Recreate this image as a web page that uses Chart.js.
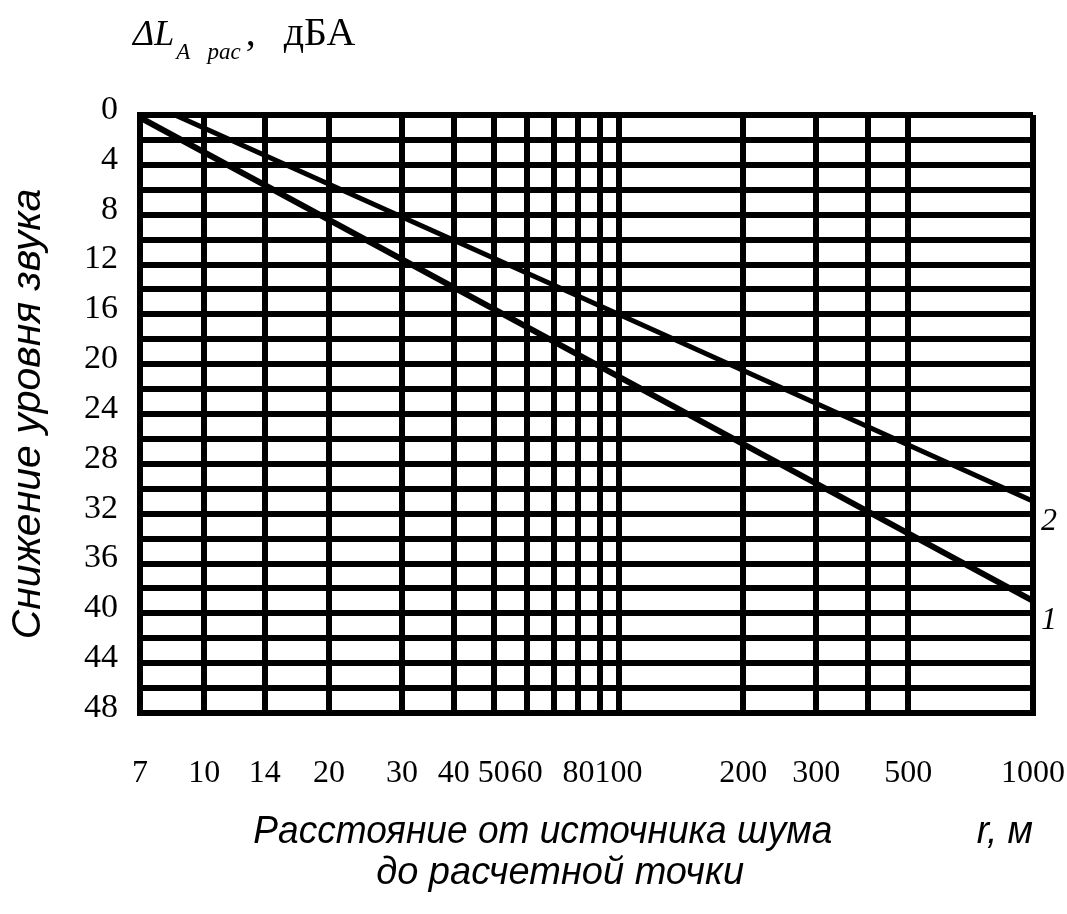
<!DOCTYPE html>
<html lang="ru">
<head>
  <meta charset="UTF-8">
  <title>Снижение уровня звука</title>
  <script src="https://cdn.jsdelivr.net/npm/chart.js"></script>
  <style>
    html, body {
      margin: 0;
      padding: 0;
      background: #ffffff;
    }
    canvas {
      display: block;
    }
  </style>
</head>
<body>

  <canvas id="chart" width="1067" height="914"></canvas>

  <script>
    // distances r, m: every vertical grid line, and the ones that carry a label
    const gridDistances = [7, 10, 14, 20, 30, 40, 50, 60, 70, 80, 90, 100, 200, 300, 400, 500, 1000];
    const labeledDistances = [7, 10, 14, 20, 30, 40, 50, 60, 80, 100, 200, 300, 500, 1000];

    // level reduction, dBA: horizontal grid every 2, labels every 4
    const levelLabels = [0, 4, 8, 12, 16, 20, 24, 28, 32, 36, 40, 44, 48];

    // curve 1 (lower, steeper)
    const curve1Distance = [7, 100, 1000];
    const curve1Reduction = [0.2, 21, 39];

    // curve 2 (upper)
    const curve2Distance = [8.5, 100, 1000];
    const curve2Reduction = [0, 16, 31];

    const curveNames = ['1', '2'];

    const black = '#000000';
    const serif = '"Liberation Serif", "DejaVu Serif", serif';
    const sans = '"Liberation Sans", "DejaVu Sans", sans-serif';

    function toPoints(xs, ys) {
      return xs.map((x, i) => ({ x: x, y: ys[i] }));
    }

    // heading above the y axis and the curve numbers at the line ends
    const textPlugin = {
      id: 'texts',
      afterDatasetsDraw(chart) {
        const ctx = chart.ctx;
        ctx.save();
        ctx.fillStyle = black;
        ctx.font = 'italic 32px ' + serif;
        ctx.textAlign = 'left';
        ctx.textBaseline = 'middle';
        chart.data.datasets.forEach((ds, i) => {
          const pts = chart.getDatasetMeta(i).data;
          const last = pts[pts.length - 1];
          ctx.fillText(ds.label, last.x + 8, last.y + 20);
        });
        ctx.restore();
      },
      afterDraw(chart) {
        const ctx = chart.ctx;
        const area = chart.chartArea;
        const base = area.top - 70;
        let x = area.left - 7;
        ctx.save();
        ctx.fillStyle = black;
        ctx.textAlign = 'left';
        ctx.textBaseline = 'alphabetic';
        ctx.font = 'italic 36px ' + serif;
        ctx.fillText('ΔL', x, base);
        x += ctx.measureText('ΔL').width + 2;
        ctx.font = 'italic 23px ' + serif;
        ctx.fillText('A   рас', x, base + 14);
        x += ctx.measureText('A   рас').width + 5;
        ctx.font = '40px ' + serif;
        ctx.fillText(',', x, base);
        x += ctx.measureText(',').width + 28;
        ctx.fillText('дБА', x, base);
        ctx.restore();
      }
    };

    new Chart(document.getElementById('chart'), {
      type: 'line',
      data: {
        datasets: [
          {
            label: curveNames[0],
            data: toPoints(curve1Distance, curve1Reduction),
            borderColor: black,
            borderWidth: 6,
            pointRadius: 0,
            tension: 0
          },
          {
            label: curveNames[1],
            data: toPoints(curve2Distance, curve2Reduction),
            borderColor: black,
            borderWidth: 5,
            pointRadius: 0,
            tension: 0
          }
        ]
      },
      options: {
        responsive: false,
        animation: false,
        layout: { padding: { top: 115, right: 0, bottom: 0, left: 0 } },
        plugins: {
          legend: { display: false },
          tooltip: { enabled: false }
        },
        scales: {
          x: {
            type: 'logarithmic',
            min: 7,
            max: 1000,
            afterBuildTicks: s => { s.ticks = gridDistances.map(v => ({ value: v })); },
            afterFit: s => {
              s.height = 201;
              s.paddingLeft = 0;
              s.paddingRight = 34;
            },
            ticks: {
              autoSkip: false,
              maxRotation: 0,
              minRotation: 0,
              padding: 41,
              color: black,
              font: { family: serif, size: 32 },
              callback: v => labeledDistances.includes(v) ? String(v) : ''
            },
            grid: { color: black, lineWidth: 6, drawTicks: false },
            border: { display: true, color: black, width: 6 },
            title: {
              display: true,
              text: ['           Расстояние от источника шума              r, м',
                     'до расчетной точки     '],
              color: black,
              font: { family: sans, size: 38, style: 'italic', lineHeight: 1.08 },
              padding: { top: 0, bottom: 20 }
            }
          },
          y: {
            type: 'linear',
            reverse: true,
            min: 0,
            max: 48,
            afterFit: s => { s.width = 140; },
            ticks: {
              stepSize: 2,
              autoSkip: false,
              padding: 22,
              labelOffset: -5,
              color: black,
              font: { family: serif, size: 34 },
              callback: v => levelLabels.includes(v) ? String(v) : ''
            },
            grid: { color: black, lineWidth: 6, drawTicks: false },
            border: { display: true, color: black, width: 6 },
            title: {
              display: true,
              text: 'Снижение уровня звука',
              color: black,
              font: { family: sans, size: 41, style: 'italic' },
              padding: { top: 4, bottom: 0 }
            }
          }
        }
      },
      plugins: [textPlugin]
    });
  </script>

</body>
</html>
